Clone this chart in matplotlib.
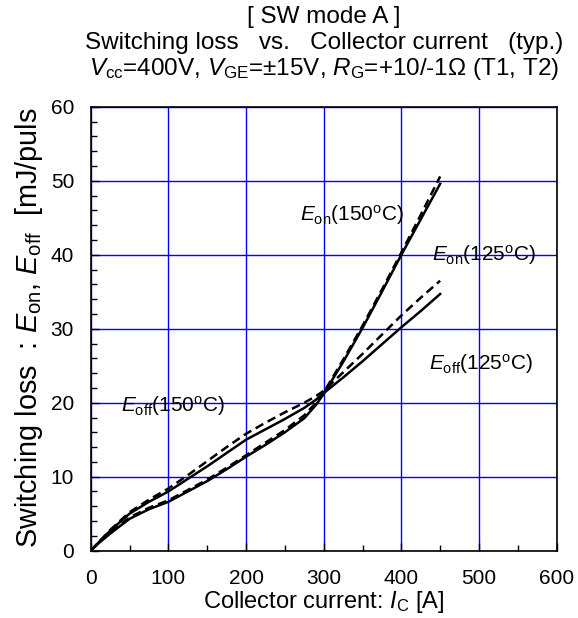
import matplotlib
matplotlib.use("Agg")
import matplotlib.pyplot as plt
from matplotlib.ticker import MultipleLocator

plt.rcParams['font.family'] = ['Liberation Sans', 'DejaVu Sans']
plt.rcParams['mathtext.fontset'] = 'custom'
plt.rcParams['mathtext.rm'] = 'Liberation Sans'
plt.rcParams['mathtext.it'] = 'Liberation Sans:italic'

# collector current [A]
ic = [0, 10, 25, 50, 75, 100, 125, 150, 175, 200, 225, 250, 275, 290, 300, 325, 350, 375, 400, 425, 450]
# switching loss [mJ/pulse]
eon_125 = [0, 1.0, 2.3, 4.3, 5.6, 6.6, 8.0, 9.4, 11.0, 12.7, 14.3, 16.0, 17.9, 19.7, 21.2, 25.5, 30.1, 35.0, 40.0, 44.8, 49.6]
eon_150 = [0, 1.0, 2.4, 4.5, 5.8, 6.8, 8.2, 9.6, 11.2, 12.9, 14.6, 16.3, 18.3, 20.0, 21.4, 25.8, 30.4, 35.3, 40.3, 45.4, 50.6]
eoff_125 = [0, 1.1, 2.7, 5.0, 6.6, 8.0, 9.7, 11.4, 13.2, 15.0, 16.4, 17.8, 19.3, 20.4, 21.3, 23.4, 25.6, 27.9, 30.2, 32.4, 34.7]
eoff_150 = [0, 1.1, 2.8, 5.2, 6.9, 8.4, 10.2, 12.1, 14.0, 15.8, 17.3, 18.7, 20.0, 20.9, 21.6, 24.1, 26.6, 29.2, 31.8, 34.2, 36.5]

fig = plt.figure(figsize=(5.78, 6.18), dpi=100)
ax = fig.add_axes([0.157, 0.109, 0.806, 0.718])

dash = (0, (3.5, 2))
ax.plot(ic, eon_125, color='black', lw=1.8)
ax.plot(ic, eon_150, color='black', lw=1.8, linestyle=dash)
ax.plot(ic, eoff_125, color='black', lw=1.8)
ax.plot(ic, eoff_150, color='black', lw=1.8, linestyle=dash)

ax.set_xlim(0, 600)
ax.set_ylim(0, 60)
ax.xaxis.set_major_locator(MultipleLocator(100))
ax.xaxis.set_minor_locator(MultipleLocator(50))
ax.yaxis.set_major_locator(MultipleLocator(10))
ax.yaxis.set_minor_locator(MultipleLocator(2))
ax.grid(True, which='major', color='#0000ff', lw=1.0)
ax.set_axisbelow(True)
ax.tick_params(which='major', direction='in', length=6, width=1, labelsize=15)
ax.tick_params(axis='x', which='major', pad=13)
ax.tick_params(axis='y', which='major', pad=12)
ax.tick_params(which='minor', direction='in', length=4, width=1)
for s in ax.spines.values():
    s.set_linewidth(1.2)

ax.set_xlabel(r'Collector current: $I_{\mathrm{C}}$ [A]', fontsize=17, labelpad=1)
fig.text(0.05, 0.113, r'Switching loss  : $E_{\mathrm{on}}$, $E_{\mathrm{off}}$  [mJ/puls',
         rotation=90, ha='center', va='bottom', fontsize=20.8)

lab_fs = 15
ax.text(270, 45.4, r'$E_{\mathrm{on}}$(150$^{\mathrm{o}}$C)', fontsize=lab_fs, va='center')
ax.text(440, 40.0, r'$E_{\mathrm{on}}$(125$^{\mathrm{o}}$C)', fontsize=lab_fs, va='center')
ax.text(436, 25.3, r'$E_{\mathrm{off}}$(125$^{\mathrm{o}}$C)', fontsize=lab_fs, va='center')
ax.text(39, 19.6, r'$E_{\mathrm{off}}$(150$^{\mathrm{o}}$C)', fontsize=lab_fs, va='center')

cx = 0.56
fig.text(cx, 0.972, '[ SW mode A ]', ha='center', va='center', fontsize=17.5)
fig.text(cx, 0.930, 'Switching loss   vs.   Collector current   (typ.)', ha='center', va='center', fontsize=17.5)
fig.text(cx, 0.889, r'$V_{\mathrm{cc}}$=400V, $V_{\mathrm{GE}}$=±15V, $R_{\mathrm{G}}$=+10/-1Ω (T1, T2)',
         ha='center', va='center', fontsize=17.5)

fig.savefig('out.png', dpi=100)
